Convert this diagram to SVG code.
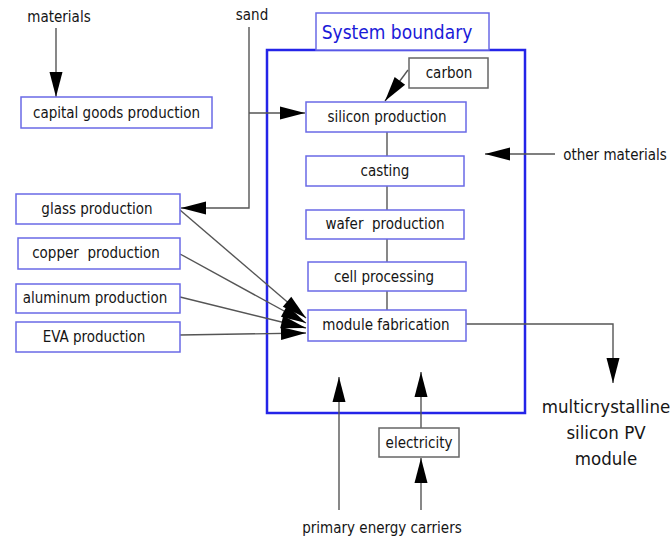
<svg xmlns="http://www.w3.org/2000/svg" width="672" height="541" viewBox="0 0 672 541">
  <style>
    text { font-family: "DejaVu Sans Condensed", "DejaVu Sans", "Liberation Sans", sans-serif; font-size: 15px; fill: #151515; text-anchor: middle; }
    .node { fill: #ffffff; stroke: #6a6ae6; stroke-width: 1.5; }
    .aux { fill: #ffffff; stroke: #666666; stroke-width: 1.5; }
    .boundary { fill: none; stroke: #2424e8; stroke-width: 2.5; }
    .link { fill: none; stroke: #555555; stroke-width: 1.4; }
    .flow { fill: none; stroke: #555555; stroke-width: 1.4; marker-end: url(#head); }
    .title { font-size: 19px; fill: #1a1ad8; }
    .product { font-size: 18.5px; }
  </style>
  <defs>
    <marker id="head" markerUnits="userSpaceOnUse" markerWidth="26" markerHeight="14" refX="25" refY="7" orient="auto" overflow="visible">
      <path d="M0,0.5 L25,7 L0,13.5 Z" fill="#000000"/>
    </marker>
  </defs>

  <rect width="672" height="541" fill="#ffffff"/>

  <!-- system boundary frame -->
  <g id="system-boundary">
    <rect class="boundary" x="267" y="50" width="258" height="363"/>
    <rect class="node" x="316" y="13" width="173" height="37"/>
    <text class="title" x="397" y="39">System boundary</text>
  </g>

  <!-- connectors -->
  <g id="connectors">
    <line class="flow" x1="56" y1="28" x2="56" y2="97"/>
    <polyline class="flow" points="249,27 249,208 181,208"/>
    <line class="flow" x1="249" y1="113" x2="305" y2="113"/>
    <line class="flow" x1="408" y1="70" x2="385" y2="101"/>
    <line class="flow" x1="555" y1="154" x2="485" y2="154"/>
    <line class="link" x1="387" y1="132" x2="387" y2="156"/>
    <line class="link" x1="387" y1="186" x2="387" y2="210"/>
    <line class="link" x1="387" y1="239" x2="387" y2="262"/>
    <line class="link" x1="387" y1="291" x2="387" y2="310"/>
    <line class="flow" x1="180" y1="210" x2="306" y2="318"/>
    <line class="flow" x1="180" y1="254" x2="306" y2="323"/>
    <line class="flow" x1="180" y1="297" x2="306" y2="328"/>
    <line class="flow" x1="180" y1="335" x2="306" y2="333"/>
    <polyline class="flow" points="466,324 613,324 613,383"/>
    <line class="flow" x1="339" y1="510" x2="339" y2="377"/>
    <line class="flow" x1="421" y1="428" x2="421" y2="372"/>
    <line class="flow" x1="421" y1="510" x2="421" y2="458"/>
  </g>

  <!-- free labels -->
  <g id="label-materials"><text x="59" y="22">materials</text></g>
  <g id="label-sand"><text x="252" y="20">sand</text></g>
  <g id="label-other-materials"><text x="615" y="160">other materials</text></g>
  <g id="label-primary-energy"><text x="382" y="533">primary energy carriers</text></g>
  <g id="label-product">
    <text class="product" x="606" y="413">multicrystalline</text>
    <text class="product" x="606" y="439">silicon PV</text>
    <text class="product" x="606" y="465">module</text>
  </g>

  <!-- process nodes -->
  <g id="capital-goods">
    <rect class="node" x="21" y="97" width="191" height="31"/>
    <text x="116.5" y="118">capital goods production</text>
  </g>
  <g id="glass">
    <rect class="node" x="16" y="194" width="164" height="30"/>
    <text x="97" y="214">glass production</text>
  </g>
  <g id="copper">
    <rect class="node" x="18" y="238" width="162" height="31"/>
    <text x="96" y="258" xml:space="preserve">copper  production</text>
  </g>
  <g id="aluminum">
    <rect class="node" x="16" y="284" width="164" height="29"/>
    <text x="95" y="303">aluminum production</text>
  </g>
  <g id="eva">
    <rect class="node" x="16" y="322" width="164" height="30"/>
    <text x="94" y="342">EVA production</text>
  </g>
  <g id="carbon">
    <rect class="aux" x="409" y="58" width="79" height="30"/>
    <text x="449" y="78">carbon</text>
  </g>
  <g id="silicon">
    <rect class="node" x="306" y="102" width="160" height="30"/>
    <text x="387" y="122">silicon production</text>
  </g>
  <g id="casting">
    <rect class="node" x="306" y="156" width="158" height="30"/>
    <text x="385" y="176">casting</text>
  </g>
  <g id="wafer">
    <rect class="node" x="306" y="210" width="158" height="29"/>
    <text x="385" y="229" xml:space="preserve">wafer  production</text>
  </g>
  <g id="cell">
    <rect class="node" x="308" y="262" width="158" height="29"/>
    <text x="384" y="282">cell processing</text>
  </g>
  <g id="module">
    <rect class="node" x="308" y="310" width="158" height="31"/>
    <text x="386" y="330">module fabrication</text>
  </g>
  <g id="electricity">
    <rect class="aux" x="379" y="428" width="80" height="29"/>
    <text x="419" y="448">electricity</text>
  </g>
</svg>
